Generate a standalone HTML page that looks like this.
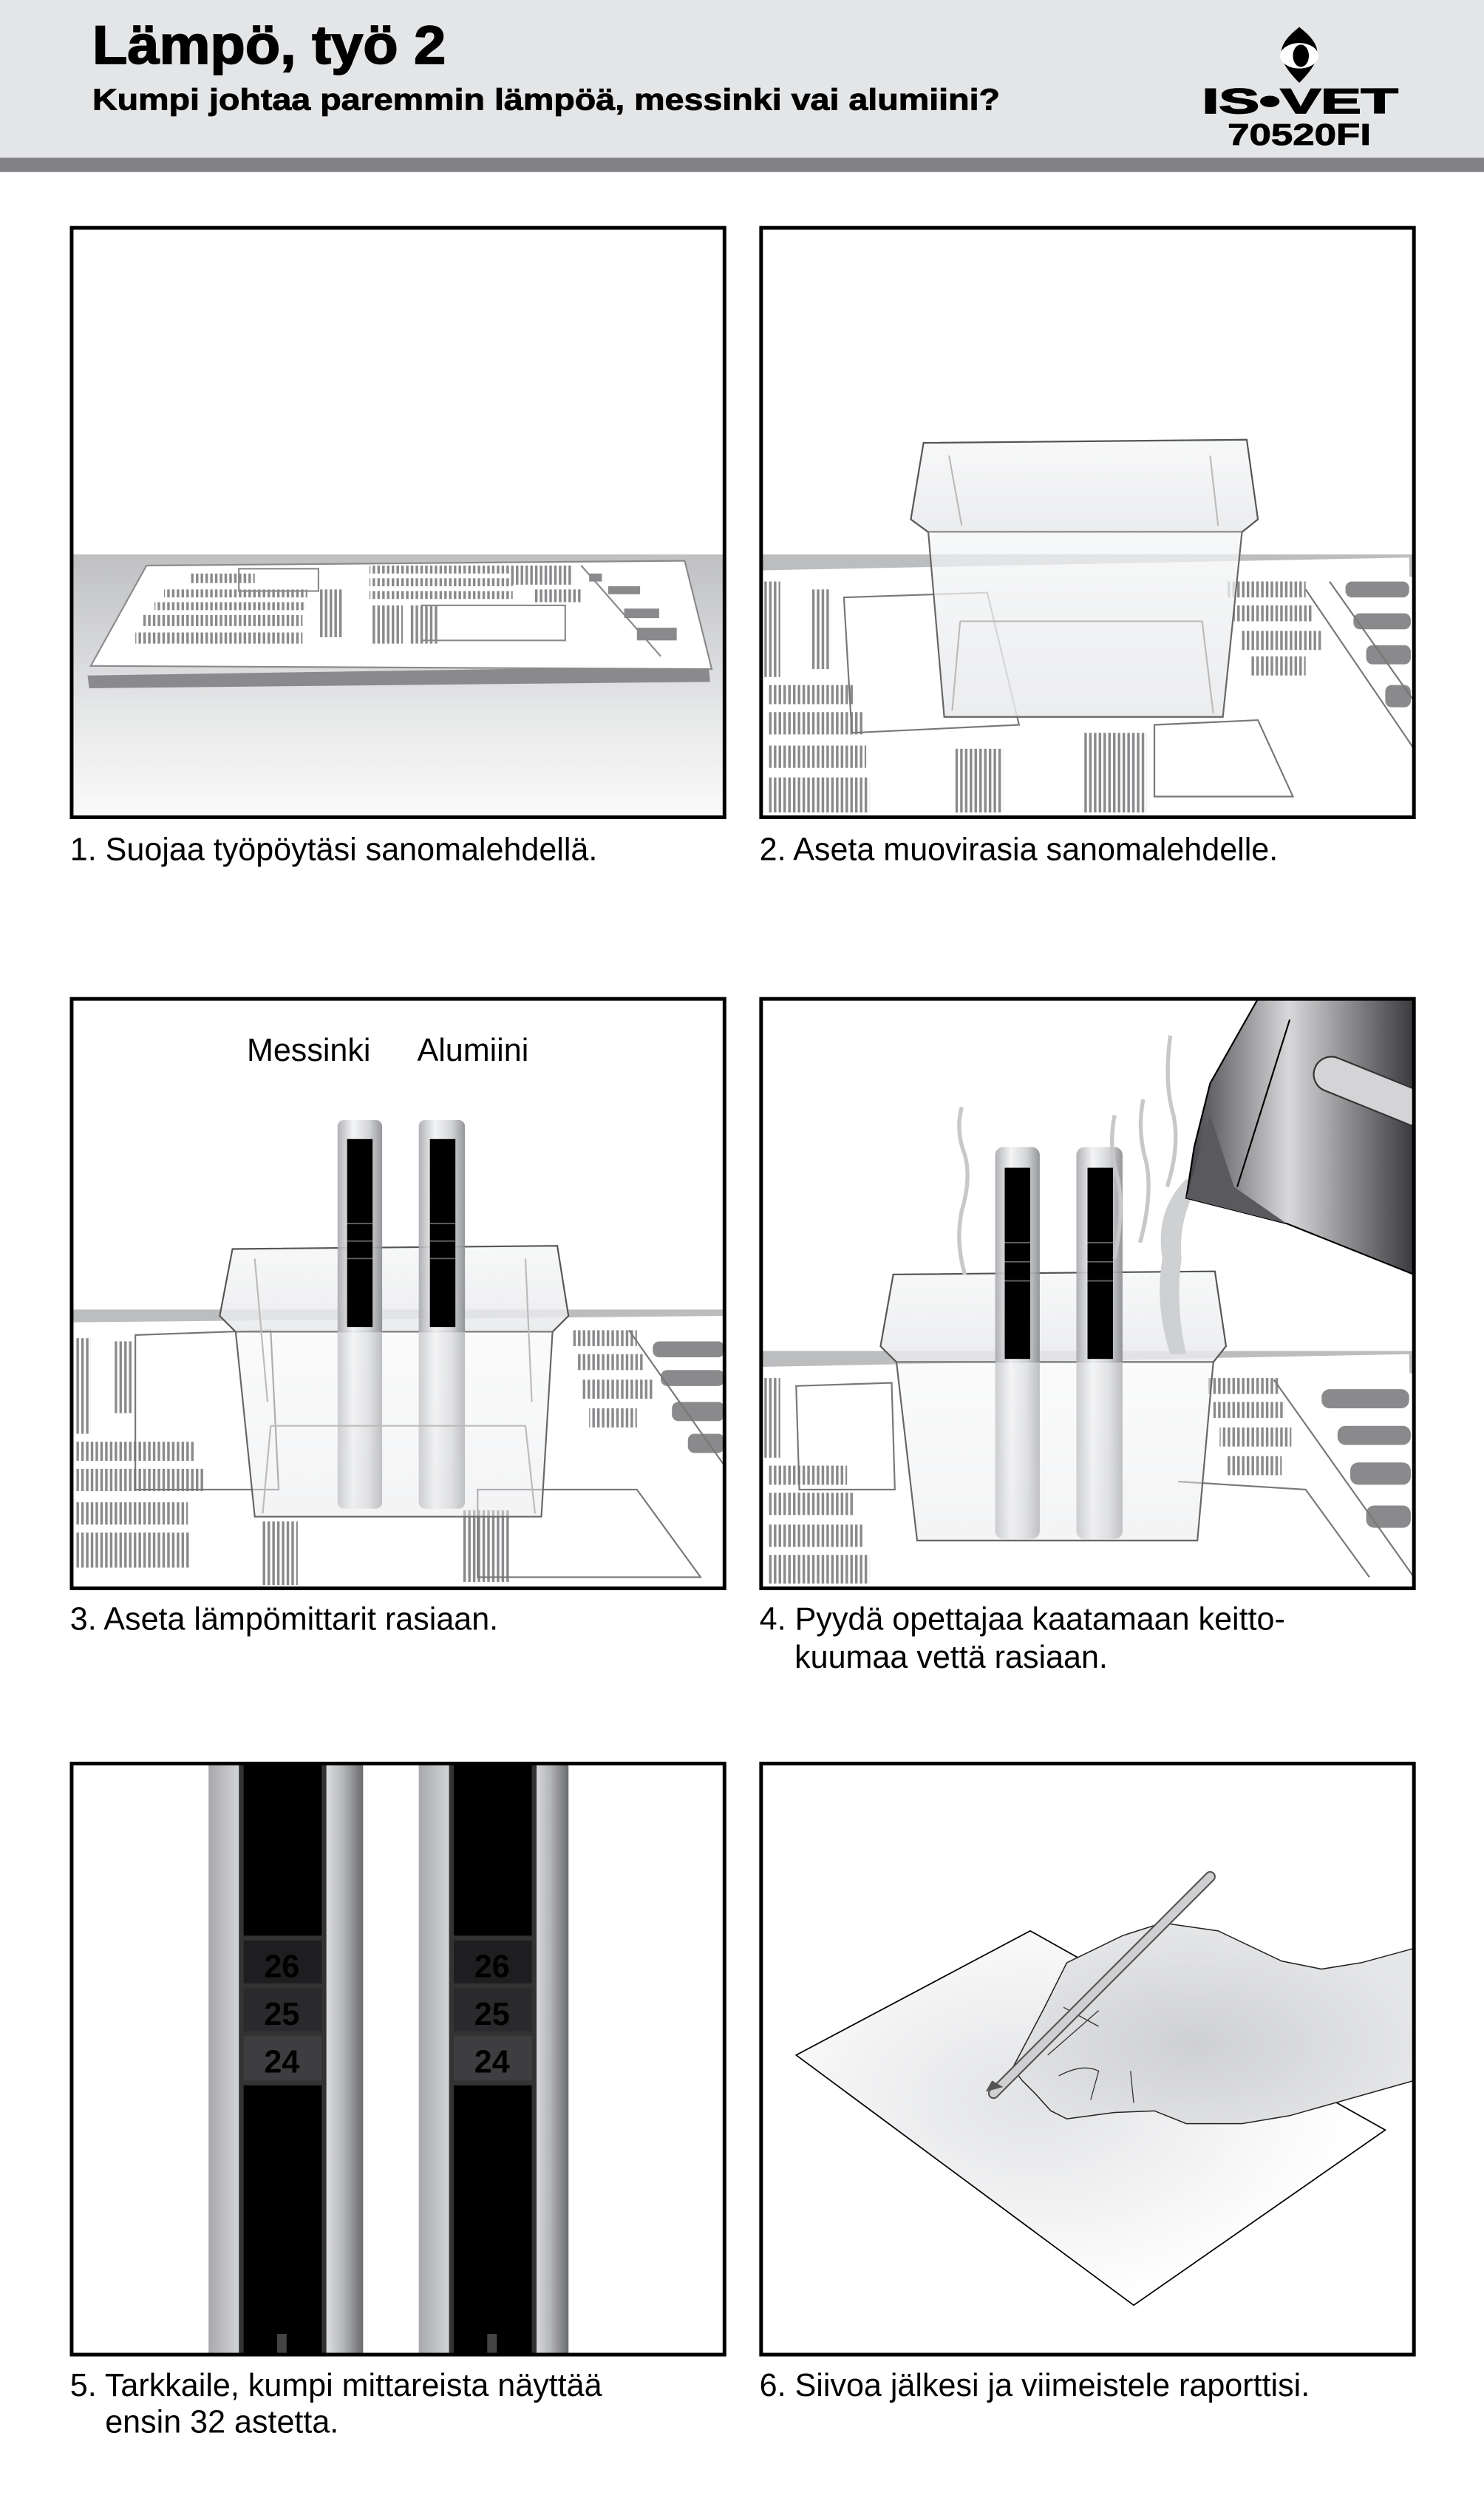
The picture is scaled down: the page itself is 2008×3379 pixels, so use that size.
<!DOCTYPE html>
<html><head><meta charset="utf-8"><style>html,body{margin:0;padding:0;background:#fff}svg{display:block}</style></head>
<body>
<svg width="2008" height="3379" viewBox="0 0 932 1568" preserveAspectRatio="none" xmlns="http://www.w3.org/2000/svg" font-family="Liberation Sans, Arial, sans-serif">
<defs>
<linearGradient id="tbl" x1="0" y1="0" x2="0" y2="1"><stop offset="0" stop-color="#bfc0c2"/><stop offset="0.6" stop-color="#e6e7e8"/><stop offset="1" stop-color="#fbfbfb"/></linearGradient>
<linearGradient id="met" x1="0" y1="0" x2="1" y2="0"><stop offset="0" stop-color="#a8a9ad"/><stop offset="0.35" stop-color="#f2f3f4"/><stop offset="0.7" stop-color="#cfd0d2"/><stop offset="1" stop-color="#8a8b8f"/></linearGradient>
<linearGradient id="met2" x1="0" y1="0" x2="1" y2="0"><stop offset="0" stop-color="#e4e5e7"/><stop offset="0.5" stop-color="#b5b6ba"/><stop offset="1" stop-color="#6a6b6f"/></linearGradient>
<linearGradient id="ket" x1="0" y1="0" x2="1" y2="0"><stop offset="0" stop-color="#404044"/><stop offset="0.45" stop-color="#d8d8da"/><stop offset="1" stop-color="#3a3a3e"/></linearGradient>
<linearGradient id="box" x1="0" y1="0" x2="0" y2="1"><stop offset="0" stop-color="#f4f5f6" stop-opacity="0.7"/><stop offset="1" stop-color="#e8e9eb" stop-opacity="0.85"/></linearGradient>
<radialGradient id="hand" cx="0.45" cy="0.6" r="0.6"><stop offset="0" stop-color="#cfd0d3"/><stop offset="1" stop-color="#e6e7e8"/></radialGradient>
<radialGradient id="paper" cx="0.4" cy="0.45" r="0.55"><stop offset="0" stop-color="#e2e3e5"/><stop offset="1" stop-color="#ffffff"/></radialGradient>
<pattern id="str" width="3" height="10" patternUnits="userSpaceOnUse"><rect width="1.6" height="10" fill="#8a8a8d"/></pattern>
<clipPath id="c4"><rect x="478" y="627" width="410" height="370"/></clipPath>
</defs>

<!-- header -->
<rect x="0" y="0" width="932" height="99" fill="#e4e5e7"/>
<rect x="0" y="99" width="932" height="9" fill="#828186"/>
<text x="58" y="40" font-size="34" font-weight="bold" textLength="222" lengthAdjust="spacingAndGlyphs" stroke="#000" stroke-width="0.8">Lämpö, työ 2</text>
<text x="58" y="69" font-size="19" font-weight="bold" textLength="570" lengthAdjust="spacingAndGlyphs" stroke="#000" stroke-width="0.4">Kumpi johtaa paremmin lämpöä, messinki vai alumiini?</text>
<path d="M816 17 C802 28 800 36 816 52 C832 36 830 28 816 17Z" fill="#000"/>
<ellipse cx="816" cy="35" rx="12" ry="8" fill="#fff"/>
<ellipse cx="817" cy="35" rx="5" ry="7" fill="#000"/>
<text x="755" y="71" font-size="22" font-weight="bold" textLength="123" lengthAdjust="spacingAndGlyphs" stroke="#000" stroke-width="0.8">IS•VET</text>
<text x="771" y="91" font-size="19" font-weight="bold" textLength="90" lengthAdjust="spacingAndGlyphs" stroke="#000" stroke-width="0.4">70520FI</text>

<!-- Panel 1 -->
<rect x="45" y="348" width="410" height="165" fill="url(#tbl)"/>
<path d="M55 424 L56 432 L446 428 L445 418Z" fill="#8a8a8d"/>
<path d="M57 418 L92 355 L430 352 L447 420 Z" fill="#fff" stroke="#8a8a8d" stroke-width="1"/>
<g fill="url(#str)">
<rect x="120" y="360" width="40" height="6"/><rect x="103" y="370" width="90" height="5"/><rect x="97" y="378" width="95" height="5"/><rect x="90" y="386" width="100" height="7"/><rect x="85" y="397" width="105" height="7"/>
<rect x="200" y="370" width="15" height="30"/><rect x="232" y="355" width="90" height="5"/><rect x="232" y="363" width="90" height="5"/><rect x="232" y="371" width="90" height="5"/>
<rect x="320" y="355" width="40" height="12"/><rect x="335" y="370" width="30" height="8"/>
<rect x="233" y="380" width="20" height="24"/><rect x="257" y="380" width="18" height="24"/>
</g>
<g fill="none" stroke="#8a8a8d" stroke-width="1"><rect x="265" y="380" width="90" height="22"/><rect x="150" y="357" width="50" height="14"/><line x1="365" y1="355" x2="415" y2="412"/></g>
<g fill="#8a8a8d"><rect x="370" y="360" width="8" height="5"/><rect x="382" y="368" width="20" height="5"/><rect x="392" y="382" width="22" height="6"/><rect x="400" y="394" width="25" height="8"/></g>
<rect x="45" y="143" width="410" height="370" fill="none" stroke="#000" stroke-width="2.3"/>

<!-- Panel 2 -->
<rect x="478" y="348" width="410" height="14" fill="#bcbdbf"/>
<path d="M478 358 L885 350 L888 513 L478 513Z" fill="#fff"/>
<g fill="url(#str)">
<rect x="480" y="365" width="10" height="60"/><rect x="482" y="430" width="55" height="12"/><rect x="482" y="447" width="60" height="14"/><rect x="482" y="468" width="62" height="14"/><rect x="482" y="488" width="64" height="22"/>
<rect x="510" y="370" width="12" height="50"/><rect x="600" y="470" width="30" height="40"/><rect x="680" y="460" width="40" height="50"/>
<rect x="770" y="365" width="50" height="10"/><rect x="775" y="380" width="50" height="10"/><rect x="780" y="396" width="50" height="12"/><rect x="785" y="412" width="35" height="12"/>
</g>
<g fill="#8a8a8d"><rect x="845" y="365" width="40" height="10" rx="4"/><rect x="850" y="385" width="36" height="10" rx="4"/><rect x="858" y="405" width="28" height="12" rx="4"/><rect x="870" y="430" width="16" height="14" rx="4"/></g>
<g fill="none" stroke="#777" stroke-width="1"><path d="M530 375 L620 372 L640 455 L535 460Z"/><path d="M725 455 L790 452 L812 500 L725 500Z"/><path d="M820 370 L888 470"/><path d="M835 365 L888 440"/></g>
<path d="M572 326 L580 278 L783 276 L790 326 L780 334 L583 334Z" fill="url(#box)" stroke="#555" stroke-width="1"/>
<path d="M583 334 L593 450 L768 450 L780 334" fill="url(#box)" stroke="#666" stroke-width="1"/>
<g fill="none" stroke="#bbb" stroke-width="1"><path d="M603 390 L755 390 L762 448"/><path d="M603 390 L598 446"/><path d="M596 286 L604 330"/><path d="M760 286 L765 330"/></g>
<rect x="478" y="143" width="410" height="370" fill="none" stroke="#000" stroke-width="2.3"/>

<!-- Panel 3 -->
<rect x="45" y="822" width="410" height="14" fill="#bcbdbf"/>
<path d="M45 830 L455 826 L455 997 L45 997Z" fill="#fff"/>
<g fill="url(#str)">
<rect x="47" y="840" width="10" height="60"/><rect x="48" y="905" width="75" height="12"/><rect x="48" y="922" width="80" height="14"/><rect x="48" y="943" width="70" height="14"/><rect x="48" y="962" width="72" height="22"/>
<rect x="72" y="842" width="12" height="45"/><rect x="165" y="955" width="22" height="40"/><rect x="290" y="948" width="30" height="45"/>
<rect x="360" y="835" width="40" height="10"/><rect x="362" y="850" width="42" height="10"/><rect x="366" y="866" width="44" height="12"/><rect x="370" y="884" width="30" height="12"/>
</g>
<g fill="#8a8a8d"><rect x="410" y="842" width="45" height="10" rx="4"/><rect x="415" y="860" width="40" height="10" rx="4"/><rect x="422" y="880" width="33" height="12" rx="4"/><rect x="432" y="900" width="23" height="12" rx="4"/></g>
<g fill="none" stroke="#777" stroke-width="1"><path d="M85 838 L170 835 L175 935 L85 935Z"/><path d="M300 935 L400 935 L440 990 L300 990Z"/><path d="M395 835 L455 920"/></g>
<path d="M138 826 L146 784 L350 782 L357 826 L347 836 L148 836Z" fill="url(#box)" stroke="#555" stroke-width="1"/>
<rect x="212" y="703" width="28" height="244" rx="4" fill="url(#met)" opacity="0.9"/>
<rect x="263" y="703" width="29" height="244" rx="4" fill="url(#met)" opacity="0.9"/>
<rect x="218" y="715" width="16" height="118" fill="#000"/>
<rect x="270" y="715" width="16" height="118" fill="#000"/>
<g stroke="#666" stroke-width="0.8"><line x1="218" y1="768" x2="234" y2="768"/><line x1="218" y1="779" x2="234" y2="779"/><line x1="218" y1="790" x2="234" y2="790"/><line x1="270" y1="768" x2="286" y2="768"/><line x1="270" y1="779" x2="286" y2="779"/><line x1="270" y1="790" x2="286" y2="790"/></g>
<path d="M148 836 L160 952 L340 952 L347 836" fill="url(#box)" fill-opacity="0.6" stroke="#666" stroke-width="1"/>
<g fill="none" stroke="#bbb" stroke-width="1"><path d="M170 895 L330 895 L336 950"/><path d="M170 895 L165 950"/><path d="M160 790 L168 880"/><path d="M330 790 L334 880"/></g>
<text x="155" y="666" font-size="20">Messinki</text>
<text x="262" y="666" font-size="20">Alumiini</text>
<rect x="45" y="627" width="410" height="370" fill="none" stroke="#000" stroke-width="2.3"/>

<!-- Panel 4 -->
<rect x="478" y="848" width="410" height="14" fill="#bcbdbf"/>
<path d="M478 858 L885 850 L888 997 L478 997Z" fill="#fff"/>
<g fill="url(#str)">
<rect x="480" y="865" width="10" height="50"/><rect x="482" y="920" width="50" height="12"/><rect x="482" y="937" width="55" height="14"/><rect x="482" y="957" width="60" height="14"/><rect x="482" y="976" width="64" height="18"/>
<rect x="758" y="865" width="45" height="10"/><rect x="762" y="880" width="45" height="10"/><rect x="766" y="896" width="45" height="12"/><rect x="770" y="914" width="35" height="12"/>
</g>
<g fill="#8a8a8d"><rect x="830" y="872" width="55" height="12" rx="5"/><rect x="840" y="895" width="46" height="12" rx="5"/><rect x="848" y="918" width="38" height="14" rx="5"/><rect x="858" y="945" width="28" height="14" rx="5"/></g>
<g fill="none" stroke="#777" stroke-width="1"><path d="M500 870 L560 868 L562 935 L502 935Z"/><path d="M800 866 L888 990"/><path d="M740 930 L820 935 L860 990"/></g>
<path d="M553 845 L561 800 L763 798 L770 845 L762 855 L563 855Z" fill="url(#box)" stroke="#555" stroke-width="1"/>
<rect x="625" y="720" width="28" height="246" rx="5" fill="url(#met)" opacity="0.9"/>
<rect x="676" y="720" width="29" height="246" rx="5" fill="url(#met)" opacity="0.9"/>
<rect x="631" y="733" width="16" height="120" fill="#000"/>
<rect x="683" y="733" width="16" height="120" fill="#000"/>
<g stroke="#666" stroke-width="0.8"><line x1="631" y1="780" x2="647" y2="780"/><line x1="631" y1="792" x2="647" y2="792"/><line x1="631" y1="804" x2="647" y2="804"/><line x1="683" y1="780" x2="699" y2="780"/><line x1="683" y1="792" x2="699" y2="792"/><line x1="683" y1="804" x2="699" y2="804"/></g>
<path d="M563 855 L576 967 L752 967 L762 855" fill="url(#box)" fill-opacity="0.6" stroke="#666" stroke-width="1"/>
<g fill="none" stroke="#c8c8ca" stroke-width="2.5"><path d="M604 695 Q600 710 606 725 Q610 740 604 760 Q600 780 606 800"/><path d="M700 700 Q696 720 702 740 Q706 760 700 790"/><path d="M735 650 Q731 680 737 700 Q741 720 733 745"/><path d="M718 690 Q714 710 720 730 Q724 750 716 780"/></g>
<path d="M745 740 Q725 760 730 790 Q725 820 735 850 L745 850 Q738 820 742 790 Q740 765 752 745Z" fill="#cfd0d2"/>
<g clip-path="url(#c4)">
<path d="M790 627 L888 627 L888 800 L808 768 L745 752 L750 720 L760 680 Z" fill="url(#ket)" stroke="#000" stroke-width="1"/>
<path d="M745 752 L760 700 L775 745 L808 768Z" fill="#5a5a5e"/>
<path d="M777 745 L810 640" stroke="#000" stroke-width="1" fill="none"/>
<rect x="830" y="660" width="80" height="22" rx="11" transform="rotate(22 830 660)" fill="#d4d4d6" stroke="#333" stroke-width="1"/>
</g>
<rect x="478" y="627" width="410" height="370" fill="none" stroke="#000" stroke-width="2.3"/>

<!-- Panel 5 -->
<rect x="131" y="1107" width="97" height="371" fill="url(#met)"/>
<rect x="263" y="1107" width="94" height="371" fill="url(#met)"/>
<rect x="203" y="1107" width="25" height="371" fill="url(#met2)"/>
<rect x="334" y="1107" width="23" height="371" fill="url(#met2)"/>
<rect x="150" y="1107" width="55" height="371" fill="#333"/>
<rect x="282" y="1107" width="55" height="371" fill="#333"/>
<rect x="153" y="1107" width="49" height="108" fill="#000"/>
<rect x="285" y="1107" width="49" height="108" fill="#000"/>
<rect x="153" y="1218" width="49" height="27" fill="#1e1d1f"/><rect x="285" y="1218" width="49" height="27" fill="#1e1d1f"/>
<rect x="153" y="1248" width="49" height="27" fill="#2a292b"/><rect x="285" y="1248" width="49" height="27" fill="#2a292b"/>
<rect x="153" y="1278" width="49" height="28" fill="#3e3d40"/><rect x="285" y="1278" width="49" height="28" fill="#3e3d40"/>
<rect x="153" y="1309" width="49" height="169" fill="#000"/>
<rect x="285" y="1309" width="49" height="169" fill="#000"/>
<rect x="174" y="1465" width="6" height="13" fill="#444"/><rect x="306" y="1465" width="6" height="13" fill="#444"/>
<g font-size="20" font-weight="bold" fill="#000" text-anchor="middle"><text x="177" y="1241">26</text><text x="177" y="1271">25</text><text x="177" y="1301">24</text><text x="309" y="1241">26</text><text x="309" y="1271">25</text><text x="309" y="1301">24</text></g>
<rect x="45" y="1107" width="410" height="371" fill="none" stroke="#000" stroke-width="2.3"/>

<!-- Panel 6 -->
<path d="M500 1290 L647 1212 L870 1337 L712 1447 Z" fill="url(#paper)" stroke="#000" stroke-width="0.8"/>
<path d="M888 1223 L855 1232 L830 1236 L805 1231 L765 1212 L730 1207 L705 1215 L670 1232 L656 1260 L636 1298 L642 1306 L650 1314 L660 1325 L670 1330 L700 1326 L725 1325 L745 1333 L780 1333 L810 1328 L888 1306 Z" fill="url(#hand)" stroke="#222" stroke-width="0.7"/>
<g fill="none" stroke="#333" stroke-width="0.6"><path d="M658 1290 L690 1262"/><path d="M668 1260 L690 1272"/><path d="M665 1303 Q680 1295 690 1300 L685 1318"/><path d="M710 1300 L712 1320"/></g>
<line x1="624" y1="1314" x2="760" y2="1178" stroke="#555" stroke-width="7" stroke-linecap="round"/>
<line x1="624" y1="1314" x2="760" y2="1178" stroke="#d0d0d2" stroke-width="5" stroke-linecap="round"/>
<path d="M619 1313 L623 1306 L630 1310 Z" fill="#555"/>
<rect x="478" y="1107" width="410" height="371" fill="none" stroke="#000" stroke-width="2.3"/>

<!-- captions -->
<g font-size="20" fill="#000">
<text x="44" y="540">1. Suojaa työpöytäsi sanomalehdellä.</text>
<text x="477" y="540">2. Aseta muovirasia sanomalehdelle.</text>
<text x="44" y="1023">3. Aseta lämpömittarit rasiaan.</text>
<text x="477" y="1023">4. Pyydä opettajaa kaatamaan keitto-</text>
<text x="499" y="1047">kuumaa vettä rasiaan.</text>
<text x="44" y="1504">5. Tarkkaile, kumpi mittareista näyttää</text>
<text x="66" y="1527">ensin 32 astetta.</text>
<text x="477" y="1504">6. Siivoa jälkesi ja viimeistele raporttisi.</text>
</g>
</svg>
</body></html>
